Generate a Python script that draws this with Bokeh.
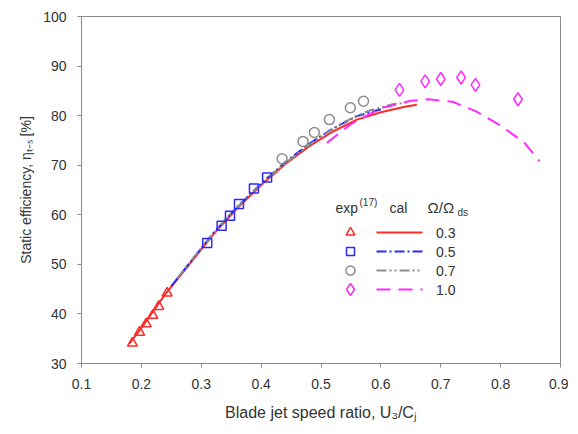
from bokeh.plotting import figure
from bokeh.embed import file_html
from bokeh.resources import INLINE
from bokeh.core.properties import value
from bokeh.models import FixedTicker

# ---------------- data ----------------
# experimental points exp(17)
exp03_x = [0.185, 0.197, 0.208, 0.219, 0.229, 0.243]
exp03_y = [34.1, 36.3, 38.0, 39.7, 41.5, 44.2]
exp05_x = [0.310, 0.334, 0.348, 0.363, 0.388, 0.410]
exp05_y = [54.3, 57.8, 59.8, 62.2, 65.3, 67.5]
exp07_x = [0.435, 0.470, 0.489, 0.514, 0.549, 0.571]
exp07_y = [71.3, 74.8, 76.6, 79.2, 81.6, 82.9]
exp10_x = [0.631, 0.674, 0.700, 0.734, 0.758, 0.829]
exp10_y = [85.2, 86.9, 87.4, 87.7, 86.2, 83.3]

# calculated curves
cal03_x = [0.18, 0.20, 0.24, 0.28, 0.32, 0.36, 0.40, 0.44, 0.48, 0.52, 0.56, 0.60, 0.64, 0.66]
cal03_y = [34.0, 37.2, 44.0, 50.0, 56.0, 61.3, 66.0, 70.2, 73.8, 76.8, 79.2, 80.7, 81.8, 82.2]
cal05_x = [0.25, 0.28, 0.32, 0.36, 0.40, 0.44, 0.48, 0.52, 0.56, 0.60]
cal05_y = [45.6, 50.2, 56.3, 61.6, 66.3, 70.6, 74.3, 77.4, 79.9, 81.3]
cal07_x = [0.26, 0.30, 0.34, 0.38, 0.42, 0.46, 0.50, 0.54, 0.58, 0.62, 0.64]
cal07_y = [47.2, 53.3, 59.0, 64.0, 68.4, 72.3, 75.8, 78.8, 81.0, 82.3, 82.6]
cal10_x = [0.51, 0.55, 0.60, 0.65, 0.68, 0.72, 0.76, 0.80, 0.84, 0.865]
cal10_y = [74.5, 78.3, 81.5, 83.0, 83.3, 82.8, 80.8, 78.0, 74.5, 70.8]

legend_labels = ["0.3", "0.5", "0.7", "1.0"]
x_ticks = [0.1, 0.2, 0.3, 0.4, 0.5, 0.6, 0.7, 0.8, 0.9]
y_ticks = [30, 40, 50, 60, 70, 80, 90, 100]

# ---------------- style ----------------
RED = "#ff2a2a"
BLUE = "#2a2aff"
GRAY = "#8c8c8c"
MAG = "#ff2aff"
AXC = "#8a8a8a"
TXT = "#333333"
FONT = "Liberation Sans"

X0, X1, Y0, Y1 = 0.1, 0.9, 30, 100
FL, FT, FW, FH = 81, 16, 479, 347  # frame in page px


def fx(px):
    return X0 + (px - FL) / FW * (X1 - X0)


def fy(py):
    return Y1 - (py - FT) / FH * (Y1 - Y0)


p = figure(width=568, height=434, output_backend="svg", toolbar_location=None,
           x_range=(X0, X1), y_range=(Y0, Y1),
           min_border_left=FL, min_border_top=FT, min_border_right=568 - FL - FW,
           min_border_bottom=434 - FT - FH)
p.grid.visible = False
p.outline_line_color = AXC
p.outline_line_width = 1
p.background_fill_color = "white"
p.border_fill_color = "white"

for ax in (p.xaxis[0], p.yaxis[0]):
    ax.axis_line_color = AXC
    ax.major_tick_line_color = AXC
    ax.minor_tick_line_color = None
    ax.major_tick_out = 4
    ax.major_tick_in = 0
    ax.major_label_text_font = FONT
    ax.major_label_text_font_size = "14px"
    ax.major_label_text_color = TXT
    ax.axis_label_text_font = FONT
    ax.axis_label_text_font_style = "normal"
    ax.axis_label_text_color = TXT

p.xaxis.axis_label_text_font_size = "16px"
p.yaxis.axis_label_text_font_size = "14px"
p.xaxis.ticker = FixedTicker(ticks=x_ticks)
p.yaxis.ticker = FixedTicker(ticks=y_ticks)
p.xaxis.major_label_overrides = {t: f"{t:.1f}" for t in x_ticks}
p.xaxis.axis_label = "Blade jet speed ratio, U\u2083/C\u2C7C"
p.yaxis.axis_label = "Static efficiency, \u03b7\u209c\u208b\u209b [%]"
p.xaxis.major_label_standoff = 11
p.yaxis.major_label_standoff = 11
p.xaxis.axis_label_standoff = 12
p.yaxis.axis_label_standoff = 6

# curves
p.line(cal03_x, cal03_y, line_color=RED, line_width=2)
p.line(cal05_x, cal05_y, line_color=BLUE, line_width=2, line_dash="10 3 2 3")
p.line(cal07_x, cal07_y, line_color=GRAY, line_width=2, line_dash="10 3 2 3 2 3")
p.line(cal10_x, cal10_y, line_color=MAG, line_width=2, line_dash="14 8")

# points
p.scatter(exp03_x, exp03_y, marker="triangle", size=10, fill_color=None, line_color=RED, line_width=1.5)
p.scatter(exp05_x, exp05_y, marker="square", size=9, fill_color=None, line_color=BLUE, line_width=1.5)
p.scatter(exp07_x, exp07_y, marker="circle", size=10, fill_color=None, line_color=GRAY, line_width=1.5)
p.scatter(exp10_x, exp10_y, marker="diamond", size=13, fill_color=None, line_color=MAG, line_width=1.5)

# ---------------- legend (manual) ----------------
hy = 207
p.text(x=[fx(335)], y=[fy(hy)], text=["exp"], text_font=value(FONT), text_font_size="14px",
       text_color=TXT, text_baseline="middle", text_align="left")
p.text(x=[fx(359)], y=[fy(hy - 5)], text=["(17)"], text_font=value(FONT), text_font_size="10px",
       text_color=TXT, text_baseline="middle", text_align="left")
p.text(x=[fx(389)], y=[fy(hy)], text=["cal"], text_font=value(FONT), text_font_size="14px",
       text_color=TXT, text_baseline="middle", text_align="left")
p.text(x=[fx(427)], y=[fy(hy)], text=["\u03a9/\u03a9"], text_font=value(FONT), text_font_size="15px",
       text_color=TXT, text_baseline="middle", text_align="left")
p.text(x=[fx(457)], y=[fy(hy + 5)], text=["ds"], text_font=value(FONT), text_font_size="10px",
       text_color=TXT, text_baseline="middle", text_align="left")

rows = [232, 251, 270, 289]
styles = [("triangle", RED, None, 10), ("square", BLUE, "10 3 2 3", 9),
          ("circle", GRAY, "10 3 2 3 2 3", 10), ("diamond", MAG, "14 8", 13)]
for r, (mk, col, dash, sz), lab in zip(rows, styles, legend_labels):
    p.scatter([fx(350)], [fy(r)], marker=mk, size=sz - 1, fill_color=None, line_color=col, line_width=1.5)
    kw = {} if dash is None else {"line_dash": dash}
    p.line([fx(376), fx(422)], [fy(r), fy(r)], line_color=col, line_width=2, **kw)
    p.text(x=[fx(455)], y=[fy(r)], text=[lab], text_font=value(FONT), text_font_size="14px",
           text_color=TXT, text_baseline="middle", text_align="right")

open("out.html", "w").write(file_html(p, INLINE))
